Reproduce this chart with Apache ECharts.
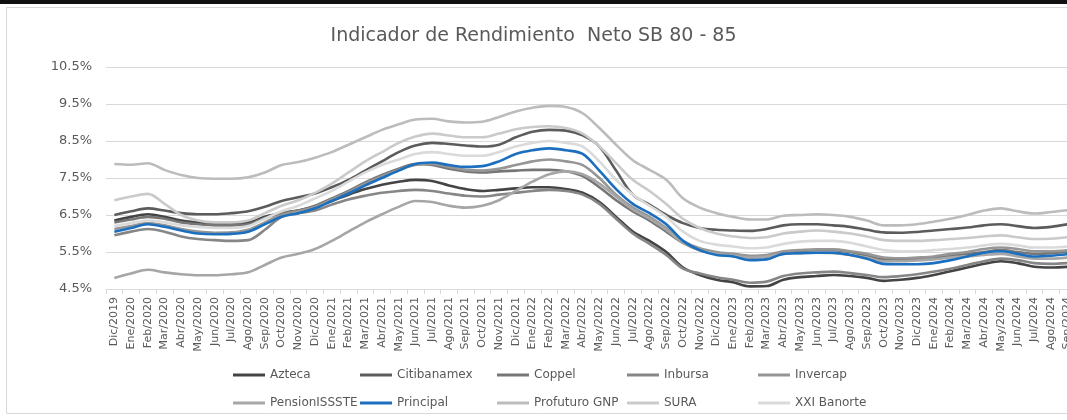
<!DOCTYPE html>
<html>
<head>
<meta charset="utf-8">
<script src="https://cdn.jsdelivr.net/npm/echarts@6/dist/echarts.min.js"></script>
<style>
  html, body { margin: 0; padding: 0; background: #fff; }
  #chart { width: 1067px; height: 420px; }
</style>
</head>
<body>
<div id="chart"></div>
<script>
// months, Dic/2019 .. Sep/2024
const months = ['Dic/2019',
  'Ene/2020', 'Feb/2020', 'Mar/2020', 'Abr/2020', 'May/2020', 'Jun/2020', 'Jul/2020', 'Ago/2020', 'Sep/2020', 'Oct/2020', 'Nov/2020', 'Dic/2020',
  'Ene/2021', 'Feb/2021', 'Mar/2021', 'Abr/2021', 'May/2021', 'Jun/2021', 'Jul/2021', 'Ago/2021', 'Sep/2021', 'Oct/2021', 'Nov/2021', 'Dic/2021',
  'Ene/2022', 'Feb/2022', 'Mar/2022', 'Abr/2022', 'May/2022', 'Jun/2022', 'Jul/2022', 'Ago/2022', 'Sep/2022', 'Oct/2022', 'Nov/2022', 'Dic/2022',
  'Ene/2023', 'Feb/2023', 'Mar/2023', 'Abr/2023', 'May/2023', 'Jun/2023', 'Jul/2023', 'Ago/2023', 'Sep/2023', 'Oct/2023', 'Nov/2023', 'Dic/2023',
  'Ene/2024', 'Feb/2024', 'Mar/2024', 'Abr/2024', 'May/2024', 'Jun/2024', 'Jul/2024', 'Ago/2024', 'Sep/2024']

// rendimiento neto (%)
const azteca = [6.35, 6.45, 6.52, 6.45, 6.35, 6.3, 6.28, 6.28, 6.3, 6.45,
  6.55, 6.62, 6.72, 6.88, 7.05, 7.2, 7.32, 7.4, 7.45, 7.42,
  7.3, 7.2, 7.15, 7.18, 7.22, 7.25, 7.25, 7.2, 7.1, 6.85,
  6.45, 6.05, 5.8, 5.5, 5.08, 4.88, 4.75, 4.68, 4.57, 4.58,
  4.75, 4.82, 4.85, 4.88, 4.85, 4.8, 4.72, 4.75, 4.8, 4.88,
  4.98, 5.08, 5.18, 5.25, 5.2, 5.1, 5.08, 5.1]
const citibanamex = [6.5, 6.6, 6.68, 6.62, 6.55, 6.52, 6.52, 6.55, 6.6, 6.72,
  6.88, 6.98, 7.08, 7.25, 7.45, 7.7, 7.95, 8.2, 8.38, 8.45,
  8.42, 8.38, 8.35, 8.4, 8.6, 8.75, 8.8, 8.78, 8.65, 8.35,
  7.7, 7.05, 6.78, 6.5, 6.28, 6.15, 6.1, 6.08, 6.07, 6.12,
  6.22, 6.25, 6.25, 6.22, 6.18, 6.1, 6.03, 6.02, 6.04, 6.08,
  6.12, 6.16, 6.22, 6.25, 6.2, 6.15, 6.18, 6.25]
const coppel = [6.3, 6.38, 6.45, 6.4, 6.3, 6.25, 6.22, 6.22, 6.25, 6.42,
  6.55, 6.62, 6.75, 6.95, 7.15, 7.38, 7.58, 7.75, 7.88, 7.85,
  7.75, 7.68, 7.65, 7.68, 7.7, 7.72, 7.72, 7.68, 7.55, 7.25,
  6.9, 6.6, 6.35, 6.05, 5.75, 5.55, 5.45, 5.4, 5.35, 5.38,
  5.5, 5.52, 5.55, 5.55, 5.5, 5.4, 5.3, 5.3, 5.32, 5.35,
  5.4, 5.45, 5.5, 5.55, 5.5, 5.45, 5.47, 5.5]
const inbursa = [5.95, 6.05, 6.12, 6.05, 5.92, 5.85, 5.82, 5.8, 5.82, 6.1,
  6.45, 6.55, 6.62, 6.78, 6.92, 7.02, 7.1, 7.15, 7.18, 7.15,
  7.08, 7.02, 7.0, 7.05, 7.1, 7.15, 7.18, 7.15, 7.05, 6.8,
  6.4, 6.0, 5.72, 5.42, 5.05, 4.92, 4.82, 4.75, 4.67, 4.7,
  4.85, 4.92, 4.95, 4.97, 4.93, 4.88, 4.82, 4.85, 4.9, 4.97,
  5.05, 5.15, 5.25, 5.32, 5.28, 5.2, 5.18, 5.2]
const invercap = [6.12, 6.2, 6.28, 6.22, 6.12, 6.05, 6.02, 6.03, 6.1, 6.3,
  6.5, 6.6, 6.72, 6.92, 7.12, 7.35, 7.55, 7.72, 7.85, 7.88,
  7.8, 7.72, 7.7, 7.75, 7.85, 7.95, 8.0, 7.95, 7.85, 7.5,
  7.05, 6.7, 6.45, 6.15, 5.8, 5.6, 5.5, 5.45, 5.4, 5.42,
  5.52, 5.55, 5.57, 5.57, 5.52, 5.45, 5.35, 5.33, 5.35, 5.38,
  5.45, 5.5, 5.58, 5.62, 5.58, 5.52, 5.52, 5.55]
const pensionissste = [4.8, 4.92, 5.02, 4.95, 4.9, 4.87, 4.87, 4.9, 4.95, 5.15,
  5.35, 5.45, 5.58, 5.8, 6.05, 6.3, 6.52, 6.72, 6.88, 6.85,
  6.75, 6.7, 6.75, 6.9, 7.15, 7.4, 7.6, 7.68, 7.6, 7.35,
  7.0, 6.65, 6.4, 6.1, 5.75, 5.55, 5.45, 5.4, 5.35, 5.38,
  5.45, 5.47, 5.48, 5.47, 5.42, 5.35, 5.25, 5.25, 5.27, 5.3,
  5.35, 5.38, 5.42, 5.45, 5.38, 5.32, 5.32, 5.35]
const principal = [6.05, 6.15, 6.25, 6.18, 6.08, 6.0, 5.98, 5.99, 6.05, 6.25,
  6.45, 6.55, 6.68, 6.88, 7.08, 7.3, 7.5, 7.7, 7.88, 7.92,
  7.85, 7.8, 7.82, 7.95, 8.15, 8.25, 8.3, 8.25, 8.15, 7.7,
  7.2, 6.8, 6.55, 6.25, 5.8, 5.55, 5.42, 5.38, 5.28, 5.3,
  5.45, 5.47, 5.48, 5.48, 5.42, 5.32, 5.18, 5.17, 5.17, 5.2,
  5.28, 5.38, 5.48, 5.52, 5.45, 5.38, 5.4, 5.44]
const profuturo = [7.88, 7.86, 7.9, 7.72, 7.58, 7.5, 7.48, 7.48, 7.52, 7.65,
  7.85, 7.93, 8.05, 8.2, 8.4, 8.6, 8.8, 8.95, 9.08, 9.1,
  9.03, 9.0, 9.02, 9.15, 9.3, 9.4, 9.45, 9.42, 9.25, 8.85,
  8.4, 7.98, 7.72, 7.45, 6.95, 6.7, 6.55, 6.45, 6.38, 6.38,
  6.48, 6.5, 6.52, 6.5, 6.45, 6.35, 6.22, 6.22, 6.25, 6.32,
  6.4, 6.5, 6.62, 6.68, 6.6, 6.54, 6.58, 6.63]
const sura = [6.9, 7.0, 7.07, 6.8, 6.5, 6.35, 6.3, 6.3, 6.35, 6.55,
  6.75, 6.9, 7.1, 7.35, 7.65, 7.95, 8.2, 8.45, 8.62, 8.7,
  8.65, 8.6, 8.6, 8.7, 8.82, 8.88, 8.9, 8.85, 8.7, 8.35,
  7.9, 7.45, 7.15, 6.8, 6.4, 6.15, 6.0, 5.92, 5.88, 5.9,
  6.0, 6.05, 6.08, 6.05, 6.0, 5.92, 5.82, 5.8, 5.8, 5.82,
  5.85, 5.88, 5.92, 5.95, 5.9, 5.85, 5.86, 5.9]
const xxiBanorte = [6.2, 6.28, 6.35, 6.3, 6.22, 6.18, 6.15, 6.15, 6.2, 6.4,
  6.6, 6.75, 6.95, 7.15, 7.4, 7.65, 7.85, 8.0, 8.15, 8.2,
  8.15, 8.1, 8.1, 8.2, 8.35, 8.45, 8.5, 8.45, 8.35, 7.95,
  7.45, 7.05, 6.75, 6.45, 6.05, 5.8, 5.7, 5.65, 5.6, 5.62,
  5.72, 5.78, 5.8, 5.8, 5.75, 5.65, 5.55, 5.52, 5.52, 5.55,
  5.58, 5.62, 5.68, 5.72, 5.68, 5.62, 5.62, 5.65]

const names = ['Azteca', 'Citibanamex', 'Coppel', 'Inbursa', 'Invercap',
  'PensionISSSTE', 'Principal', 'Profuturo GNP', 'SURA', 'XXI Banorte']
const values = [azteca, citibanamex, coppel, inbursa, invercap,
  pensionissste, principal, profuturo, sura, xxiBanorte]
const colors = ['#444444', '#5c5c5c', '#767676', '#868686', '#969696',
  '#a6a6a6', '#1b6fbe', '#bcbcbc', '#cacaca', '#dadada']

const font = 'DejaVu Sans'
const textColor = '#595959'

// legend slots, 5 per row (Excel style fixed columns)
const legCols = [233, 360, 497, 627, 758]
const legRows = [369, 397]

const series = names.map((n, i) => ({
  name: n,
  type: 'line',
  data: values[i],
  smooth: 0.35,
  symbol: 'none',
  lineStyle: { color: colors[i], width: 2.6 },
  itemStyle: { color: colors[i] },
  z: i === 6 ? 5 : 2
}))

const legends = names.map((n, i) => ({
  data: [n],
  left: legCols[i % 5],
  top: legRows[Math.floor(i / 5)],
  icon: 'rect',
  itemWidth: 32,
  itemHeight: 3,
  padding: 0,
  textStyle: { fontFamily: font, fontSize: 12, color: textColor }
}))

const chart = echarts.init(document.getElementById('chart'), null, { renderer: 'canvas' })
chart.setOption({
  animation: false,
  backgroundColor: '#fff',
  title: {
    text: 'Indicador de Rendimiento  Neto SB 80 - 85',
    left: 'center',
    top: 22,
    textStyle: { fontFamily: font, fontSize: 19, fontWeight: 'normal', color: textColor }
  },
  graphic: [
    { type: 'rect', shape: { x: 0, y: 0, width: 1067, height: 4 }, style: { fill: '#111' }, silent: true },
    { type: 'rect', shape: { x: 6.5, y: 7.5, width: 1070, height: 406 }, style: { fill: 'none', stroke: '#d9d9d9', lineWidth: 1 }, silent: true }
  ],
  legend: legends,
  // plot runs past the right edge, Sep/2024 is cut off in the source
  grid: { left: 106, top: 67, width: 970, height: 222, outerBoundsMode: 'none' },
  xAxis: {
    type: 'category',
    data: months,
    boundaryGap: true,
    axisLine: { lineStyle: { color: '#d9d9d9', width: 1 } },
    axisTick: { show: true, length: 5, lineStyle: { color: '#d9d9d9' } },
    axisLabel: { rotate: 90, interval: 0, margin: 8, fontFamily: font, fontSize: 11, color: textColor }
  },
  yAxis: {
    type: 'value',
    min: 4.5,
    max: 10.5,
    interval: 1,
    axisLine: { show: false },
    axisTick: { show: false },
    splitLine: { lineStyle: { color: '#d9d9d9', width: 1 } },
    axisLabel: {
      margin: 14,
      fontFamily: font, fontSize: 13, color: textColor,
      formatter: v => v.toFixed(1) + '%'
    }
  },
  series: series
})
</script>
</body>
</html>
